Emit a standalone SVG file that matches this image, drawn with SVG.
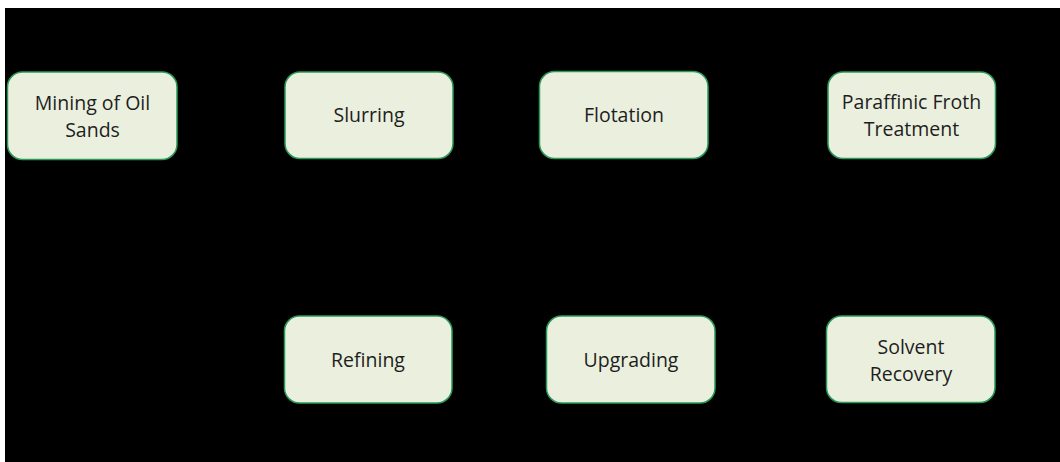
<svg xmlns="http://www.w3.org/2000/svg" width="1060" height="462" viewBox="0 0 1060 462">
  <defs>
    <style>
      .box { fill: #EBF0DE; stroke: #2A9A5A; stroke-width: 1.5; }
      .lbl { font-family: "Open Sans", "Liberation Sans", sans-serif; font-size: 19.5px; fill: #1E1E1E; text-anchor: middle; }
      .conn { fill: none; stroke: #000000; stroke-width: 1.5; }
    </style>
    <marker id="arr" viewBox="0 0 10 10" refX="9" refY="5" markerWidth="7" markerHeight="7" orient="auto">
      <path d="M0,0 L10,5 L0,10 z" fill="#000000"/>
    </marker>
  </defs>
  <rect x="0" y="0" width="1060" height="462" fill="#FFFFFF"/>
  <rect x="5" y="8" width="1055" height="454" fill="#000000"/>

  <g id="connectors">
    <path class="conn" marker-end="url(#arr)" d="M177,116 L284,116"/>
    <path class="conn" marker-end="url(#arr)" d="M453,115 L538,115"/>
    <path class="conn" marker-end="url(#arr)" d="M708,115 L827,115"/>
    <path class="conn" marker-end="url(#arr)" d="M911,158 L911,315"/>
    <path class="conn" marker-end="url(#arr)" d="M826,359 L716,359"/>
    <path class="conn" marker-end="url(#arr)" d="M546,359 L453,359"/>
  </g>

  <g id="mining">
    <rect class="box" x="7.5" y="72" width="169.5" height="87.5" rx="15"/>
    <text class="lbl" x="92.5" y="110">Mining of Oil</text>
    <text class="lbl" x="92.5" y="137">Sands</text>
  </g>
  <g id="slurring">
    <rect class="box" x="285" y="72" width="168" height="86.5" rx="15"/>
    <text class="lbl" x="369" y="122">Slurring</text>
  </g>
  <g id="flotation">
    <rect class="box" x="539.5" y="71.5" width="168.5" height="87" rx="15"/>
    <text class="lbl" x="624" y="122">Flotation</text>
  </g>
  <g id="paraffinic">
    <rect class="box" x="828" y="72" width="167.5" height="86.5" rx="15"/>
    <text class="lbl" x="911.5" y="109">Paraffinic Froth</text>
    <text class="lbl" x="911.5" y="136">Treatment</text>
  </g>
  <g id="refining">
    <rect class="box" x="284.5" y="316" width="167.5" height="87" rx="15"/>
    <text class="lbl" x="368" y="367">Refining</text>
  </g>
  <g id="upgrading">
    <rect class="box" x="546.5" y="316" width="168.5" height="87" rx="15"/>
    <text class="lbl" x="631" y="367">Upgrading</text>
  </g>
  <g id="solvent">
    <rect class="box" x="826.5" y="316" width="168.5" height="86.5" rx="15"/>
    <text class="lbl" x="911" y="354">Solvent</text>
    <text class="lbl" x="911" y="381">Recovery</text>
  </g>
</svg>
